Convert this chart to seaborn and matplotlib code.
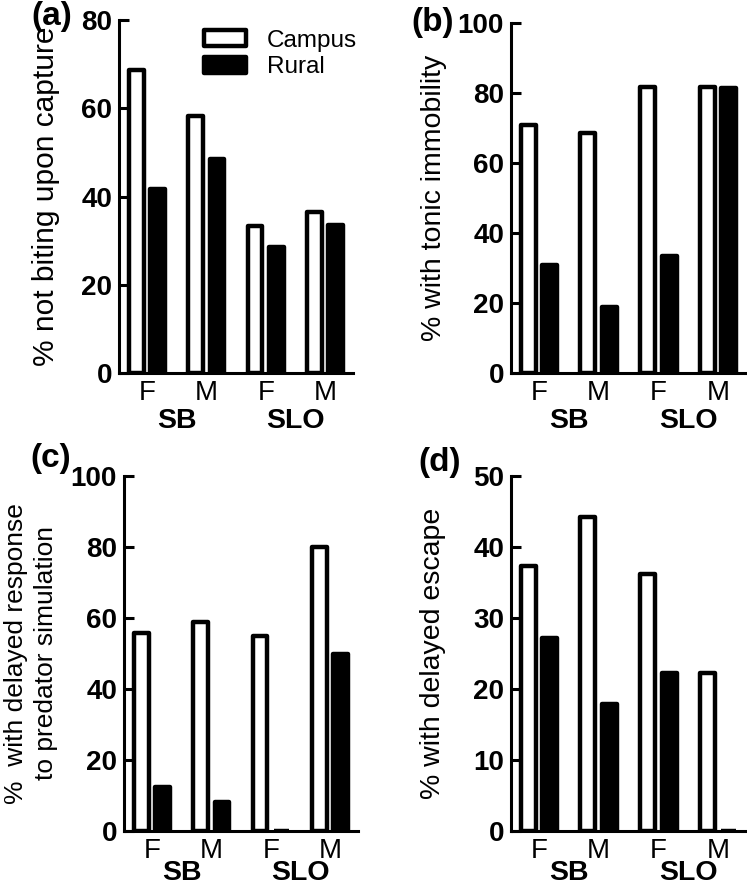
import numpy as np
import pandas as pd
import matplotlib
matplotlib.use("Agg")
import matplotlib.pyplot as plt
import matplotlib.patches as mpatches
import seaborn as sns

# values (percent)
groups = ["SB-F", "SB-M", "SLO-F", "SLO-M"]
tick_labels = ["F", "M", "F", "M"]
sites = ["SB", "SLO"]

a_campus = [68.7, 58.3, 33.3, 36.5]
a_rural = [41.8, 48.5, 28.6, 33.5]
b_campus = [70.8, 68.6, 81.8, 81.8]
b_rural = [31.0, 19.0, 33.5, 81.5]
c_campus = [55.8, 58.9, 54.9, 80.0]
c_rural = [12.3, 8.3, 0.0, 50.0]
d_campus = [37.3, 44.2, 36.2, 22.2]
d_rural = [27.2, 17.9, 22.3, 0.0]

ylabels = ["% not biting upon capture",
           "% with tonic immobility",
           "%  with delayed response\nto predator simulation",
           "% with delayed escape"]

sns.set_theme(style="ticks")
plt.rcParams["font.family"] = ["Liberation Sans", "DejaVu Sans"]
plt.rcParams["text.color"] = "black"
plt.rcParams["axes.labelcolor"] = "black"

fig = plt.figure(figsize=(7.47, 8.86), dpi=100)
W, H = 747., 886.


def make_df(campus, rural):
    return pd.DataFrame({
        "group": groups * 2,
        "habitat": ["Campus"] * 4 + ["Rural"] * 4,
        "value": list(campus) + list(rural),
    })


# axes boxes in pixels: left, top, right, bottom
boxes = [(119, 20, 353, 373), (511, 23, 746, 373),
         (124, 476, 358, 831), (511, 476, 746, 831)]
data = [(a_campus, a_rural), (b_campus, b_rural),
        (c_campus, c_rural), (d_campus, d_rural)]
ymax = [80, 100, 100, 50]
ystep = [20, 20, 20, 10]
label_x = [-0.252, -0.272, -0.282, -0.277]
label_fs = [21.5, 20.5, 19, 20.5]
site_off = [48, 48, 42, 42]

axes = []
for i in range(4):
    l, t, r, b = boxes[i]
    ax = fig.add_axes([l / W, 1 - b / H, (r - l) / W, (b - t) / H])
    df = make_df(*data[i])
    sns.barplot(data=df, x="group", y="value", hue="habitat",
                palette={"Campus": "white", "Rural": "black"},
                edgecolor="black", linewidth=3.2, width=0.72, gap=0.3,
                legend=False, ax=ax)
    for p in ax.patches:
        p.set_joinstyle("round")
    ax.set_xlim(-0.47, 3.47)
    ax.set_ylim(0, ymax[i])
    ax.set_yticks(np.arange(0, ymax[i] + 1, ystep[i]))
    ax.set_xticks(range(4))
    ax.set_xticklabels(tick_labels, fontsize=20)
    for lab in ax.get_yticklabels():
        lab.set_fontweight("bold")
        lab.set_fontsize(20)
    ax.set_xlabel("")
    ax.set_ylabel(ylabels[i], fontsize=label_fs[i], linespacing=1.3)
    ax.yaxis.set_label_coords(label_x[i], 0.5)
    sns.despine(ax=ax)
    for s in ["left", "bottom"]:
        ax.spines[s].set_linewidth(2.2)
        ax.spines[s].set_color("black")
    ax.tick_params(axis="y", direction="in", length=7, width=2.2, pad=5,
                   colors="black")
    ax.tick_params(axis="x", length=0, pad=5, colors="black")
    for k, s in enumerate(sites):
        ax.annotate(s, xy=(2 * k + 0.5, 0), xycoords=("data", "axes fraction"),
                    xytext=(0, -site_off[i]), textcoords="offset pixels",
                    ha="center", va="center", fontsize=20.5, fontweight="bold")
    axes.append(ax)

handles = [mpatches.Patch(facecolor="white", edgecolor="black", linewidth=3.2, label="Campus"),
           mpatches.Patch(facecolor="black", edgecolor="black", linewidth=3.2, label="Rural")]
leg = axes[0].legend(handles=handles, loc="upper right", frameon=False,
                     fontsize=17.5, handlelength=1.75, handleheight=0.62,
                     handletextpad=0.85, labelspacing=0.2,
                     bbox_to_anchor=(1.11, 1.035))
for h in leg.legend_handles:
    h.set_joinstyle("round")

panel = [("(a)", 52, 16), ("(b)", 433, 22), ("(c)", 51, 458), ("(d)", 440, 463)]
for txt, x, y in panel:
    fig.text(x / W, 1 - y / H, txt, fontsize=24, fontweight="bold",
             ha="center", va="center")

fig.savefig("out.png", dpi=100)
